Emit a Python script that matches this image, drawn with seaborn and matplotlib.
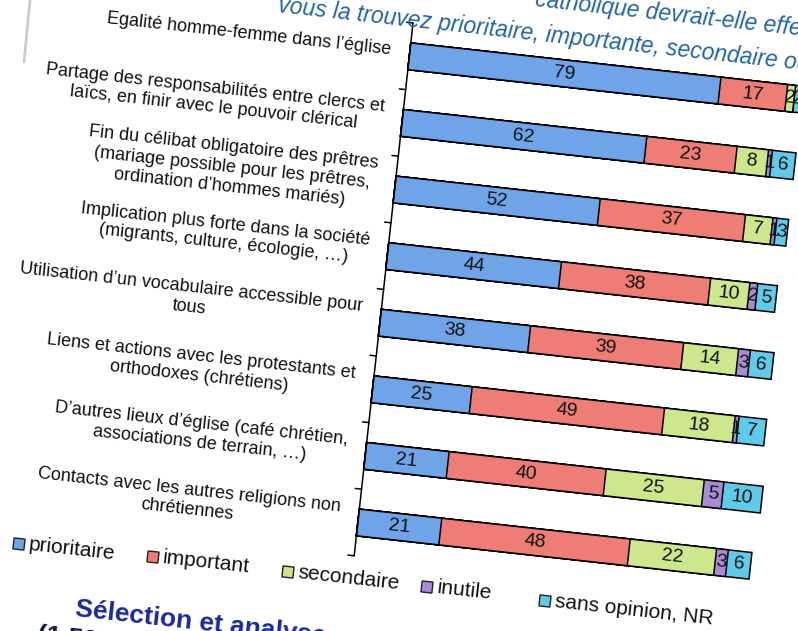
import numpy as np
import pandas as pd
import matplotlib
matplotlib.use("Agg")
import matplotlib.pyplot as plt
import seaborn as sns
from matplotlib.transforms import Affine2D, IdentityTransform
from matplotlib.patches import Rectangle
from matplotlib.lines import Line2D

# ---------------- data ----------------
categories = [
    "Egalité homme-femme dans l’église",
    "Partage des responsabilités entre clercs et\nlaïcs, en finir avec le pouvoir clérical",
    "Fin du célibat obligatoire des prêtres\n(mariage possible pour les prêtres,\nordination d’hommes mariés)",
    "Implication plus forte dans la société\n(migrants, culture, écologie, …)",
    "Utilisation d’un vocabulaire accessible pour\ntous",
    "Liens et actions avec les protestants et\northodoxes (chrétiens)",
    "D’autres lieux d’église (café chrétien,\nassociations de terrain, …)",
    "Contacts avec les autres religions non\nchrétiennes",
]
prioritaire = [79, 62, 52, 44, 38, 25, 21, 21]
important = [17, 23, 37, 38, 39, 49, 40, 48]
secondaire = [2, 8, 7, 10, 14, 18, 25, 22]
inutile = [0, 1, 1, 2, 3, 1, 5, 3]
sans_opinion = [2, 6, 3, 5, 6, 7, 10, 6]
series_names = ["prioritaire", "important", "secondaire", "inutile", "sans opinion, NR"]
title_line1 = "catholique devrait-elle effectuer"
title_line2 = "vous la trouvez prioritaire, importante, secondaire ou inutile ?"
footer_line1 = "Sélection et analyse"
footer_line2 = "(1 507"

colors = ["#6fa4e8", "#ee7d75", "#cde78c", "#a88cd2", "#5fcbe9"]

# ---------------- layout ----------------
W, H = 798, 631
ANGLE = -6.3
PIVOT = (413, 608)

sns.set_theme(style="white")
plt.rcParams["font.family"] = ["Liberation Sans", "DejaVu Sans"]

fig = plt.figure(figsize=(W / 100, H / 100), dpi=100)
fig.patch.set_facecolor("white")
ax = fig.add_axes([413 / W, 72 / H, 395 / W, 536 / H])

series = [prioritaire, important, secondaire, inutile, sans_opinion]
cum = np.cumsum(np.array(series), axis=0)

df = pd.DataFrame({"categorie": categories})
for k in range(len(series) - 1, -1, -1):
    df["cum"] = cum[k]
    sns.barplot(data=df, x="cum", y="categorie", orient="h", color=colors[k],
                saturation=1, width=0.4, edgecolor="black", linewidth=1.1,
                ax=ax, errorbar=None)

ax.set_xlim(0, 100)
ax.set_ylim(len(categories) - 0.5, -0.5)
ax.axis("off")

rot = Affine2D().rotate_deg_around(PIVOT[0], PIVOT[1], ANGLE)
T = ax.transData + rot
for p in ax.patches:
    p.set_transform(T)
    p.set_clip_on(False)

# value labels
for k, s in enumerate(series):
    for i, v in enumerate(s):
        if v == 0:
            continue
        xc = cum[k][i] - v / 2
        ax.text(xc, i, str(v), transform=T, rotation=ANGLE, rotation_mode="anchor",
                ha="center", va="center", fontsize=14, color="#111111", clip_on=False)

# axis line with category-boundary ticks
n = len(categories)
ax.plot([0, 0], [-0.5, n - 0.5], color="black", lw=1.1, transform=T, clip_on=False)
for b in np.arange(-0.5, n, 1.0):
    ax.plot([-1.6, 0], [b, b], color="black", lw=1.1, transform=T, clip_on=False)

# category labels
for i, c in enumerate(categories):
    ax.text(-4.8, i - 0.06, c, transform=T, rotation=ANGLE, rotation_mode="anchor",
            ha="right", va="center", multialignment="center", fontsize=13,
            color="#111111", clip_on=False)

# legend (manual, rotated)
leg_pos = [(19, 544), (153, 557), (288, 572), (427, 587), (545, 601)]
for (cx, cy), name, col in zip(leg_pos, series_names, colors):
    dx, dy = cx, H - cy
    sq = Rectangle((dx - 5.5, dy - 5.5), 11, 11, angle=ANGLE, rotation_point="center",
                   facecolor=col, edgecolor="#222222", linewidth=1.0,
                   transform=IdentityTransform())
    fig.add_artist(sq)
    fig.text((cx + 10) / W, 1 - (cy + 1) / H, name, rotation=ANGLE, rotation_mode="anchor",
             ha="left", va="center", fontsize=15, color="#111111")

# title (partially visible, cropped slide)
fig.text(278 / W, 1 - 12 / H, title_line2, rotation=ANGLE, rotation_mode="anchor",
         ha="left", va="baseline", fontsize=16.5, style="italic", color="#2265a8")
fig.text(535 / W, 1 - 6 / H, title_line1, rotation=ANGLE, rotation_mode="anchor",
         ha="left", va="baseline", fontsize=16.5, style="italic", color="#2265a8")

# footer
fig.text(75 / W, 1 - 616 / H, footer_line1, rotation=ANGLE, rotation_mode="anchor",
         ha="left", va="baseline", fontsize=19, fontweight="bold", color="#1a2a9a")
fig.text(37 / W, 1 - 642 / H, footer_line2, rotation=ANGLE, rotation_mode="anchor",
         ha="left", va="baseline", fontsize=19, fontweight="bold", color="#14184a")

# faint slide edge
fig.add_artist(Line2D([30, 24], [H, H - 62], color="#cccccc", lw=2,
                      transform=IdentityTransform()))

fig.savefig("out.png", dpi=100, facecolor="white")
